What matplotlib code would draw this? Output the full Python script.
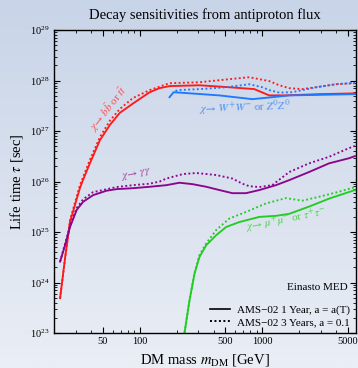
import numpy as np
import matplotlib
matplotlib.use("Agg")
import matplotlib.pyplot as plt
from matplotlib.colors import LinearSegmentedColormap
from matplotlib.ticker import FixedLocator, NullFormatter, LogFormatterMathtext, FuncFormatter

plt.rcParams['font.family'] = ['Liberation Serif', 'DejaVu Serif']
plt.rcParams['mathtext.fontset'] = 'stix'

# ---- sensitivity curves: DM mass [GeV] vs. lifetime [sec] ----
# b bbar / t tbar
bb_mass_1y = [22.4, 24.6, 27.0, 32.5, 34.4, 39.2, 47.3, 57.0, 68.8, 87.7, 120.6, 145, 175,
              307, 539, 861, 1140, 1510, 2904, 5700]
bb_tau_1y = [4.9e23, 3.1e24, 1.6e25, 7.4e25, 1.07e26, 2.3e26, 6.6e26, 1.32e27, 2.3e27, 3.5e27,
             5.9e27, 7.1e27, 7.8e27, 8.1e27, 7.4e27, 6.8e27, 5.1e27, 5.1e27, 5.4e27, 5.6e27]
bb_mass_3y = [22.4, 27.0, 32.5, 39.2, 47.3, 57.0, 68.8, 87.7, 120.6, 145, 175, 307, 539, 783,
              1140, 1374, 1660, 2115, 2746, 3995, 5700]
bb_tau_3y = [4.9e23, 1.74e25, 8.5e25, 2.7e26, 7.6e26, 1.6e27, 2.75e27, 4.5e27, 6.5e27, 7.6e27,
             8.9e27, 9.3e27, 1.07e28, 1.17e28, 9.8e27, 8.1e27, 7.1e27, 6.8e27, 7.4e27, 8.5e27, 8.9e27]

# W+W- / Z0Z0
ww_mass_1y = [175, 189, 211, 447, 829, 1205, 1660, 5700]
ww_tau_1y = [4.7e27, 5.9e27, 5.8e27, 5.1e27, 4.3e27, 4.7e27, 5.1e27, 5.4e27]
ww_mass_3y = [196, 204, 307, 509, 783, 1000, 1140, 1374, 1754, 2746, 3995, 5700]
ww_tau_3y = [6.2e27, 6.5e27, 6.8e27, 7.4e27, 8.5e27, 7.4e27, 6.5e27, 5.8e27, 5.9e27, 7.4e27,
             8.5e27, 9.1e27]

# gamma gamma
gg_mass_1y = [22.4, 24.6, 27.0, 30.6, 34.6, 41.7, 53.6, 64.7, 87.7, 120.6, 165, 211, 270, 349,
              447, 570, 736, 946, 1292, 1660, 2410, 3506, 5093, 5700]
gg_tau_1y = [2.6e24, 5.5e24, 1.26e25, 2.75e25, 4.0e25, 5.4e25, 6.6e25, 7.1e25, 7.4e25, 7.9e25,
             8.5e25, 9.5e25, 8.9e25, 7.9e25, 6.8e25, 5.9e25, 5.9e25, 6.8e25, 8.5e25, 1.07e26,
             1.55e26, 2.3e26, 2.9e26, 3.2e26]
gg_mass_3y = [22.4, 27.0, 30.6, 34.6, 41.7, 47.3, 64.7, 87.7, 120.6, 145, 165, 225, 289, 421,
              570, 687, 783, 946, 1205, 1660, 2410, 3506, 5093, 5700]
gg_tau_3y = [2.6e24, 1.35e25, 3.0e25, 4.5e25, 6.2e25, 6.6e25, 7.8e25, 8.5e25, 9.1e25, 1.0e26,
             1.15e26, 1.41e26, 1.48e26, 1.35e26, 1.15e26, 9.1e25, 8.1e25, 7.8e25, 8.5e25,
             1.55e26, 2.3e26, 3.1e26, 4.6e26, 5.1e26]

# mu+mu- / tau+tau-
ll_mass_1y = [224, 255, 280, 307, 349, 421, 507, 650, 946, 1300, 1660, 2410, 3506, 5700]
ll_tau_1y = [5.8e22, 4.5e23, 1.5e24, 3.2e24, 5.5e24, 8.7e24, 1.26e25, 1.58e25, 2.0e25, 2.1e25,
             2.3e25, 3.2e25, 4.6e25, 6.8e25]
ll_mass_3y = [224, 255, 280, 307, 349, 421, 539, 736, 1072, 1558, 2129, 2904, 4227, 5700]
ll_tau_3y = [5.8e22, 4.5e23, 1.55e24, 3.5e24, 6.0e24, 1.1e25, 1.86e25, 2.5e25, 3.7e25, 4.7e25,
             4.2e25, 5.0e25, 6.3e25, 7.8e25]

x_major_ticks = [50, 100, 500, 1000, 5000]
legend_labels = ["AMS\u221202 1 Year, a = a(T)", "AMS\u221202 3 Years, a = 0.1"]

RED, BLUE, PURPLE, GREEN = "#ff1a1a", "#1f78ff", "#8a068a", "#22cc22"
DOT = (0, (1.0, 1.3))

fig = plt.figure(figsize=(3.58, 3.68), dpi=100)

# vertical gradient backdrop
bg = fig.add_axes([0, 0, 1, 1], zorder=-10)
grad = np.linspace(0, 1, 256).reshape(-1, 1)
cmap = LinearSegmentedColormap.from_list("bg", ["#eaeef5", "#c8d4e8"])
bg.imshow(grad, aspect="auto", cmap=cmap, extent=[0, 1, 0, 1], origin="lower")
bg.axis("off")

ax = fig.add_axes([0.151, 0.095, 0.843, 0.823])
ax.set_facecolor("none")
ax.set_xscale("log")
ax.set_yscale("log")
ax.set_xlim(20, 5800)
ax.set_ylim(1e23, 1e29)

lw = 1.35
ax.plot(bb_mass_1y, bb_tau_1y, color=RED, lw=lw)
ax.plot(bb_mass_3y, bb_tau_3y, color=RED, lw=lw, ls=DOT)
ax.plot(ww_mass_1y, ww_tau_1y, color=BLUE, lw=lw)
ax.plot(ww_mass_3y, ww_tau_3y, color=BLUE, lw=lw, ls=DOT)
ax.plot(gg_mass_1y, gg_tau_1y, color=PURPLE, lw=lw)
ax.plot(gg_mass_3y, gg_tau_3y, color=PURPLE, lw=lw, ls=DOT)
ax.plot(ll_mass_1y, ll_tau_1y, color=GREEN, lw=lw)
ax.plot(ll_mass_3y, ll_tau_3y, color=GREEN, lw=lw, ls=DOT)

# channel labels
ax.text(55, 2.8e27, r"$\chi\!\rightarrow\, b\bar{b}$ or $t\bar{t}$", color="#ff4d4d",
        fontsize=8, rotation=52, ha="center", va="center")
ax.text(94, 1.4e26, r"$\chi\!\rightarrow\,\gamma\gamma$", color="#a03ca0",
        fontsize=8, rotation=12, ha="center", va="center")
ax.text(714, 2.85e27, r"$\chi\!\rightarrow\, W^{+}W^{-}$ or $Z^{0}Z^{0}$", color="#4a8ff5",
        fontsize=8, rotation=2, ha="center", va="center")
ax.text(1570, 1.75e25, r"$\chi\!\rightarrow\, \mu^{+}\mu^{-}$ or $\tau^{+}\tau^{-}$",
        color="#4fd24f", fontsize=8, rotation=11, ha="center", va="center")
ax.text(0.974, 0.149, "Einasto MED", transform=ax.transAxes, fontsize=8,
        ha="right", va="center")

# axes styling
ax.xaxis.set_major_locator(FixedLocator(x_major_ticks))
ax.xaxis.set_major_formatter(FuncFormatter(lambda v, p: f"{int(v)}"))
minors = [m * d for d in (10, 100, 1000) for m in range(2, 10)
          if m * d not in x_major_ticks]
ax.xaxis.set_minor_locator(FixedLocator(minors))
ax.xaxis.set_minor_formatter(NullFormatter())
ax.yaxis.set_major_locator(FixedLocator([10.0 ** k for k in range(23, 30)]))
ax.yaxis.set_major_formatter(LogFormatterMathtext())
ax.yaxis.set_minor_locator(FixedLocator([m * 10.0 ** k for k in range(23, 29) for m in range(2, 10)]))
ax.yaxis.set_minor_formatter(NullFormatter())
ax.tick_params(which="both", direction="in", top=True, right=True, labelsize=7.5, pad=3)
ax.tick_params(which="major", length=4, width=0.8)
ax.tick_params(which="minor", length=2, width=0.6)
for s in ax.spines.values():
    s.set_linewidth(1.0)

ax.set_title("Decay sensitivities from antiproton flux", fontsize=10.5, pad=8)
ax.set_xlabel(r"DM mass $m_{\rm DM}$ [GeV]", fontsize=10.5, labelpad=4)
ax.set_ylabel(r"Life time $\tau$ [sec]", fontsize=10.5, labelpad=4)

handles = [plt.Line2D([], [], color="black", lw=1.2),
           plt.Line2D([], [], color="black", lw=1.4, ls=DOT)]
leg = ax.legend(handles, legend_labels, loc="lower right", fontsize=8, frameon=True,
                fancybox=False, framealpha=0, edgecolor="black", handlelength=1.8,
                handletextpad=0.6, borderpad=0.3, labelspacing=0.2,
                borderaxespad=0.25)
leg.get_frame().set_linewidth(1.0)

fig.savefig("out.png", dpi=100)
